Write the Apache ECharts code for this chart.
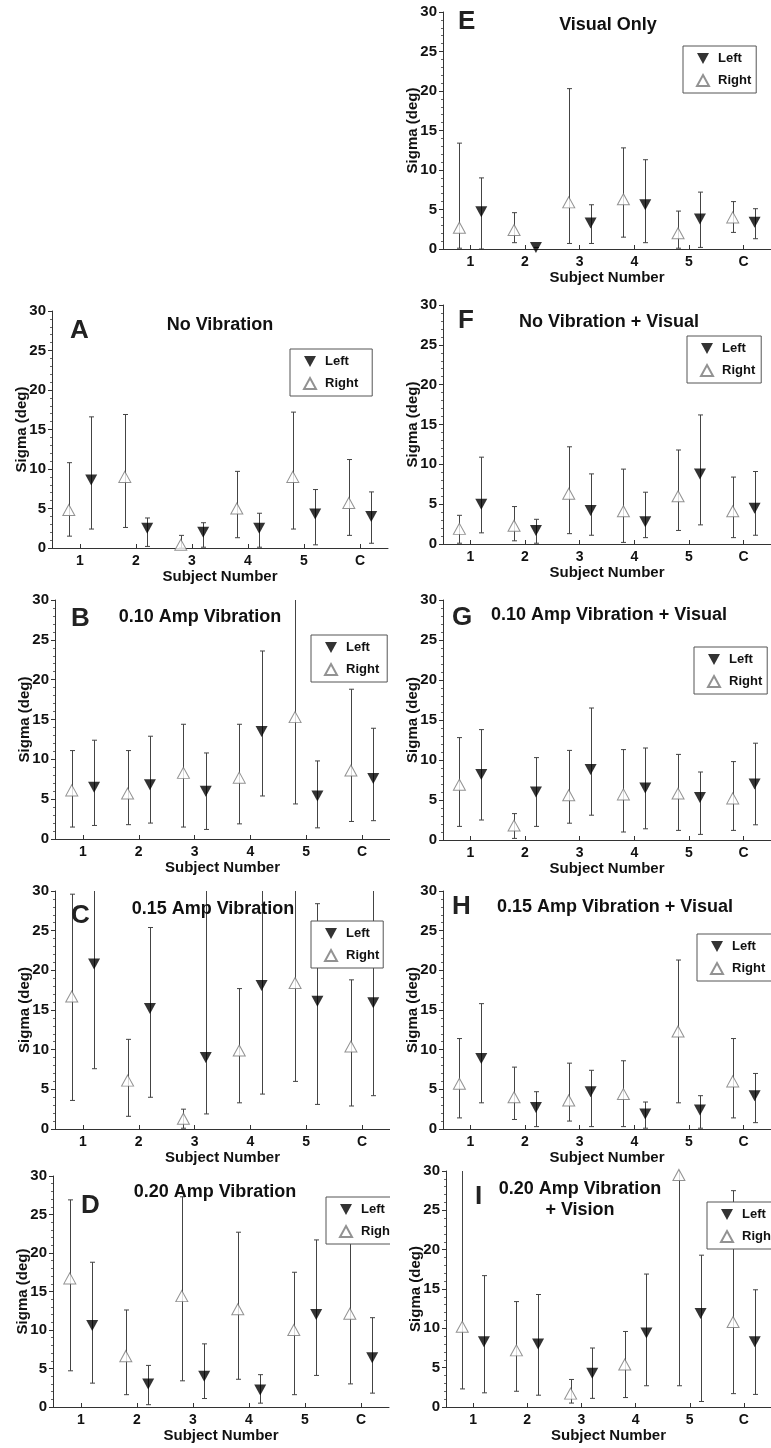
<!DOCTYPE html>
<html>
<head>
<meta charset="utf-8">
<script src="https://cdn.jsdelivr.net/npm/echarts@6/dist/echarts.min.js"></script>
<style>
    html, body { margin: 0; padding: 0; background: #fff; }
    #page { position: relative; width: 771px; height: 1448px; overflow: hidden; }
    .panel { position: absolute; }
</style>
</head>
<body>
<div id="page"></div>
<script>
/**
 * Sigma (deg) per subject, Right / Left, with error bar limits
 */
const subjects = ['1', '2', '3', '4', '5', 'C'];

// A - No Vibration
const rightA = [4.8, 9.0, 0.4, 5.0, 9.0, 5.7];
const rightLowA = [1.5, 2.6, 0.0, 1.3, 2.4, 1.6];
const rightHighA = [10.8, 16.9, 1.6, 9.7, 17.2, 11.2];
const leftA = [8.6, 2.5, 2.0, 2.5, 4.3, 4.0];
const leftLowA = [2.4, 0.2, 0.1, 0.1, 0.4, 0.6];
const leftHighA = [16.6, 3.8, 3.2, 4.4, 7.4, 7.1];

// B - 0.10 Amp Vibration
const rightB = [6.1, 5.7, 8.3, 7.7, 15.3, 8.6];
const rightLowB = [1.5, 1.8, 1.5, 1.9, 4.4, 2.2];
const rightHighB = [11.1, 11.1, 14.4, 14.4, 32, 18.8];
const leftB = [6.5, 6.8, 6.0, 13.5, 5.4, 7.6];
const leftLowB = [1.7, 2.0, 1.2, 5.4, 1.4, 2.3];
const leftHighB = [12.4, 12.9, 10.8, 23.6, 9.8, 13.9];

// C - 0.15 Amp Vibration
const rightC = [16.7, 6.1, 1.3, 9.9, 18.4, 10.4];
const rightLowC = [3.6, 1.6, 0.1, 3.3, 6.0, 2.9];
const rightHighC = [29.6, 11.3, 2.5, 17.7, 32, 18.8];
const leftC = [20.8, 15.2, 9.0, 18.1, 16.1, 15.9];
const leftLowC = [7.6, 4.0, 1.9, 4.4, 3.1, 4.2];
const leftHighC = [32, 25.4, 32, 32, 28.4, 32];

// D - 0.20 Amp Vibration
const rightD = [16.7, 6.6, 14.4, 12.7, 10.0, 12.1];
const rightLowD = [4.7, 1.6, 3.4, 3.6, 1.6, 3.0];
const rightHighD = [26.9, 12.6, 27.3, 22.7, 17.5, 21.4];
const leftD = [10.6, 3.0, 4.0, 2.2, 12.0, 6.4];
const leftLowD = [3.1, 0.3, 1.1, 0.5, 4.1, 1.8];
const leftHighD = [18.8, 5.4, 8.2, 4.2, 21.7, 11.6];

// E - Visual Only
const rightE = [2.7, 2.4, 5.9, 6.3, 2.0, 4.0];
const rightLowE = [0.1, 0.8, 0.7, 1.5, 0.1, 2.1];
const rightHighE = [13.4, 4.6, 20.3, 12.8, 4.8, 6.0];
const leftE = [4.7, 0.2, 3.3, 5.6, 3.8, 3.4];
const leftLowE = [0.0, 0.2, 0.7, 0.8, 0.2, 1.3];
const leftHighE = [9.0, 0.2, 5.6, 11.3, 7.2, 5.1];

// F - No Vibration + Visual
const rightF = [1.9, 2.3, 6.3, 4.1, 6.0, 4.1];
const rightLowF = [0.1, 0.4, 1.3, 0.2, 1.7, 0.8];
const rightHighF = [3.6, 4.7, 12.2, 9.4, 11.8, 8.4];
const leftF = [5.0, 1.7, 4.2, 2.8, 8.8, 4.5];
const leftLowF = [1.4, 0.1, 1.1, 0.8, 2.4, 1.1];
const leftHighF = [10.9, 3.1, 8.8, 6.5, 16.2, 9.1];

// G - 0.10 Amp Vibration + Visual
const rightG = [6.9, 1.8, 5.6, 5.7, 5.8, 5.2];
const rightLowG = [1.7, 0.2, 2.1, 1.0, 1.2, 1.2];
const rightHighG = [12.8, 3.3, 11.2, 11.3, 10.7, 9.8];
const leftG = [8.2, 6.0, 8.8, 6.5, 5.3, 7.0];
const leftLowG = [2.5, 1.7, 3.1, 1.4, 0.7, 1.9];
const leftHighG = [13.8, 10.3, 16.5, 11.5, 8.5, 12.1];

// H - 0.15 Amp Vibration + Visual
const rightH = [5.7, 4.0, 3.6, 4.4, 12.3, 6.0];
const rightLowH = [1.4, 1.2, 1.0, 0.3, 3.3, 1.4];
const rightHighH = [11.4, 7.8, 8.3, 8.6, 21.3, 11.4];
const leftH = [8.9, 2.7, 4.7, 1.9, 2.4, 4.2];
const leftLowH = [3.3, 0.3, 0.3, 0.1, 0.1, 0.8];
const leftHighH = [15.8, 4.7, 7.4, 3.4, 4.2, 7.0];

// I - 0.20 Amp Vibration + Vision
const rightI = [10.2, 7.2, 1.7, 5.4, 29.5, 10.8];
const rightLowI = [2.3, 2.0, 0.5, 1.2, 2.7, 1.7];
const rightHighI = [32, 13.4, 3.5, 9.6, 32, 27.5];
const leftI = [8.3, 8.0, 4.3, 9.4, 11.9, 8.3];
const leftLowI = [1.8, 1.5, 1.1, 2.7, 0.7, 1.6];
const leftHighI = [16.7, 14.3, 7.5, 16.9, 19.3, 14.9];

/**
 * Panel list: letter, title, data, and where the panel sits on the page
 * legendPos = [left, top, right padding]
 */
const panels = [
    { letter: 'E', title: 'Visual Only', right: [rightE, rightLowE, rightHighE], left: [leftE, leftLowE, leftHighE],
      box: [395, 0, 376], grid: [48, 12, 237], titlePos: [213, 15], letterPos: [63, 9], legendPos: [288, 46, 5] },
    { letter: 'A', title: 'No Vibration', right: [rightA, rightLowA, rightHighA], left: [leftA, leftLowA, leftHighA],
      box: [0, 299, 390], grid: [52, 12, 237], titlePos: [220, 16], letterPos: [70, 19], legendPos: [290, 50, 14] },
    { letter: 'F', title: 'No Vibration + Visual', right: [rightF, rightLowF, rightHighF], left: [leftF, leftLowF, leftHighF],
      box: [395, 293, 376], grid: [48, 12, 239], titlePos: [214, 19], letterPos: [63, 15], legendPos: [292, 43, 6] },
    { letter: 'B', title: '0.10 Amp Vibration', right: [rightB, rightLowB, rightHighB], left: [leftB, leftLowB, leftHighB],
      box: [0, 588, 390], grid: [55, 12, 239], titlePos: [200, 19], letterPos: [71, 18], legendPos: [311, 47, 8] },
    { letter: 'G', title: '0.10 Amp Vibration + Visual', right: [rightG, rightLowG, rightHighG], left: [leftG, leftLowG, leftHighG],
      box: [395, 588, 376], grid: [48, 12, 240], titlePos: [214, 17], letterPos: [57, 17], legendPos: [299, 59, 5] },
    { letter: 'C', title: '0.15 Amp Vibration', right: [rightC, rightLowC, rightHighC], left: [leftC, leftLowC, leftHighC],
      box: [0, 879, 390], grid: [55, 12, 238], titlePos: [213, 20], letterPos: [71, 24], legendPos: [311, 42, 4] },
    { letter: 'H', title: '0.15 Amp Vibration + Visual', right: [rightH, rightLowH, rightHighH], left: [leftH, leftLowH, leftHighH],
      box: [395, 879, 376], grid: [48, 12, 238], titlePos: [220, 18], letterPos: [57, 15], legendPos: [302, 55, 13] },
    { letter: 'D', title: '0.20 Amp Vibration', right: [rightD, rightLowD, rightHighD], left: [leftD, leftLowD, leftHighD],
      box: [0, 1164, 390], grid: [53, 12, 239], titlePos: [215, 18], letterPos: [81, 29], legendPos: [326, 33, 13] },
    { letter: 'I', title: '0.20 Amp Vibration\n+ Vision', right: [rightI, rightLowI, rightHighI], left: [leftI, leftLowI, leftHighI],
      box: [395, 1159, 376], grid: [51, 12, 239], titlePos: [185, 20], letterPos: [80, 25], legendPos: [312, 43, 13] },
];

const FONT = '"Liberation Sans", Arial, Helvetica, sans-serif';
const AXIS_COLOR = '#333';
const BAR_COLOR = '#444';
const OFFSET = 0.2;  // Right sits left of the subject, Left sits right
const LEFT_ICON = 'path://M0,0L10,0L5,9Z';
const tickValues = subjects.map((s, i) => i + 1);

/**
 * Error bar series drawn with a custom renderItem
 */
function errorBars(name, offset, low, high) {
    return {
        type: 'custom',
        name: name,
        silent: true,
        clip: true,
        z: 1,
        data: subjects.map((s, i) => [i + 1 + offset, low[i], high[i]]),
        encode: { x: 0, y: [1, 2] },
        renderItem(params, api) {
            const x = api.value(0);
            const lo = api.coord([x, api.value(1)]);
            const hi = api.coord([x, api.value(2)]);
            const px = Math.round(lo[0]) + 0.5;
            const cap = 2.5;
            const style = { stroke: BAR_COLOR, lineWidth: 1 };
            return {
                type: 'group',
                children: [
                    { type: 'line', shape: { x1: px, y1: lo[1], x2: px, y2: hi[1] }, style },
                    { type: 'line', shape: { x1: px - cap, y1: lo[1], x2: px + cap, y2: lo[1] }, style },
                    { type: 'line', shape: { x1: px - cap, y1: hi[1], x2: px + cap, y2: hi[1] }, style },
                ],
            };
        },
    };
}

function markers(name, offset, values) {
    const isLeft = name === 'Left';
    return {
        type: 'scatter',
        name: name,
        z: 3,
        symbol: isLeft ? LEFT_ICON : 'triangle',
        symbolSize: [12, 11],
        itemStyle: isLeft
            ? { color: '#000' }
            : { color: '#fff', borderColor: '#777', borderWidth: 1 },
        data: values.map((v, i) => [i + 1 + offset, v]),
    };
}

function buildOption(p) {
    const [gLeft, gTop, gHeight] = p.grid;
    return {
        animation: false,
        textStyle: { fontFamily: FONT },
        title: [
            {
                text: p.letter, left: p.letterPos[0], top: p.letterPos[1], padding: 0,
                textStyle: { fontFamily: FONT, fontSize: 26, fontWeight: 'bold', color: '#222' },
            },
            {
                text: p.title, left: p.titlePos[0], top: p.titlePos[1], textAlign: 'center', padding: 0,
                textStyle: { fontFamily: FONT, fontSize: 18, fontWeight: 'bold', color: '#111', lineHeight: 21, align: 'center' },
            },
        ],
        legend: {
            data: [{ name: 'Left', icon: LEFT_ICON }, { name: 'Right', icon: 'triangle' }],
            orient: 'vertical',
            left: p.legendPos[0],
            top: p.legendPos[1],
            itemWidth: 12,
            itemHeight: 11,
            itemGap: 9,
            padding: [6, p.legendPos[2], 6, 13],
            borderColor: '#555',
            borderWidth: 1,
            backgroundColor: '#fff',
            selectedMode: false,
            z: 10,
            textStyle: { fontFamily: FONT, fontSize: 13, fontWeight: 'bold', color: '#111', padding: [0, 0, 0, 4] },
        },
        grid: { left: gLeft, top: gTop, width: 336, height: gHeight, containLabel: false },
        xAxis: {
            type: 'value',
            min: 0.5,
            max: 6.5,
            name: 'Subject Number',
            nameLocation: 'middle',
            nameGap: 21,
            nameMoveOverlap: false,
            nameTextStyle: { fontFamily: FONT, fontSize: 15, fontWeight: 'bold', color: '#111' },
            axisLine: { show: true, lineStyle: { color: AXIS_COLOR } },
            axisTick: { show: true, inside: true, length: 4, customValues: tickValues, lineStyle: { color: AXIS_COLOR } },
            axisLabel: {
                customValues: tickValues,
                formatter: (v) => subjects[Math.round(v) - 1] || '',
                fontFamily: FONT, fontSize: 14, fontWeight: 'bold', color: '#111', margin: 6,
            },
            splitLine: { show: false },
        },
        yAxis: {
            type: 'value',
            min: 0,
            max: 30,
            interval: 5,
            name: 'Sigma (deg)',
            nameLocation: 'middle',
            nameGap: 23,
            nameMoveOverlap: false,
            nameTextStyle: { fontFamily: FONT, fontSize: 15, fontWeight: 'bold', color: '#111' },
            axisLine: { show: true, lineStyle: { color: AXIS_COLOR } },
            axisTick: { show: true, length: 4, lineStyle: { color: AXIS_COLOR } },
            minorTick: { show: true, splitNumber: 5, length: 2, lineStyle: { color: '#666' } },
            axisLabel: { fontFamily: FONT, fontSize: 15, fontWeight: 'bold', color: '#111', margin: 6 },
            splitLine: { show: false },
        },
        series: [
            errorBars('Right bars', -OFFSET, p.right[1], p.right[2]),
            errorBars('Left bars', OFFSET, p.left[1], p.left[2]),
            markers('Right', -OFFSET, p.right[0]),
            markers('Left', OFFSET, p.left[0]),
        ],
    };
}

const page = document.getElementById('page');
panels.forEach((p) => {
    const el = document.createElement('div');
    el.className = 'panel';
    const [x, y, w] = p.box;
    el.style.left = x + 'px';
    el.style.top = y + 'px';
    el.style.width = w + 'px';
    el.style.height = Math.min(300, 1448 - y) + 'px';
    page.appendChild(el);
    const chart = echarts.init(el, null, { renderer: 'canvas' });
    chart.setOption(buildOption(p));
});
</script>
</body>
</html>
